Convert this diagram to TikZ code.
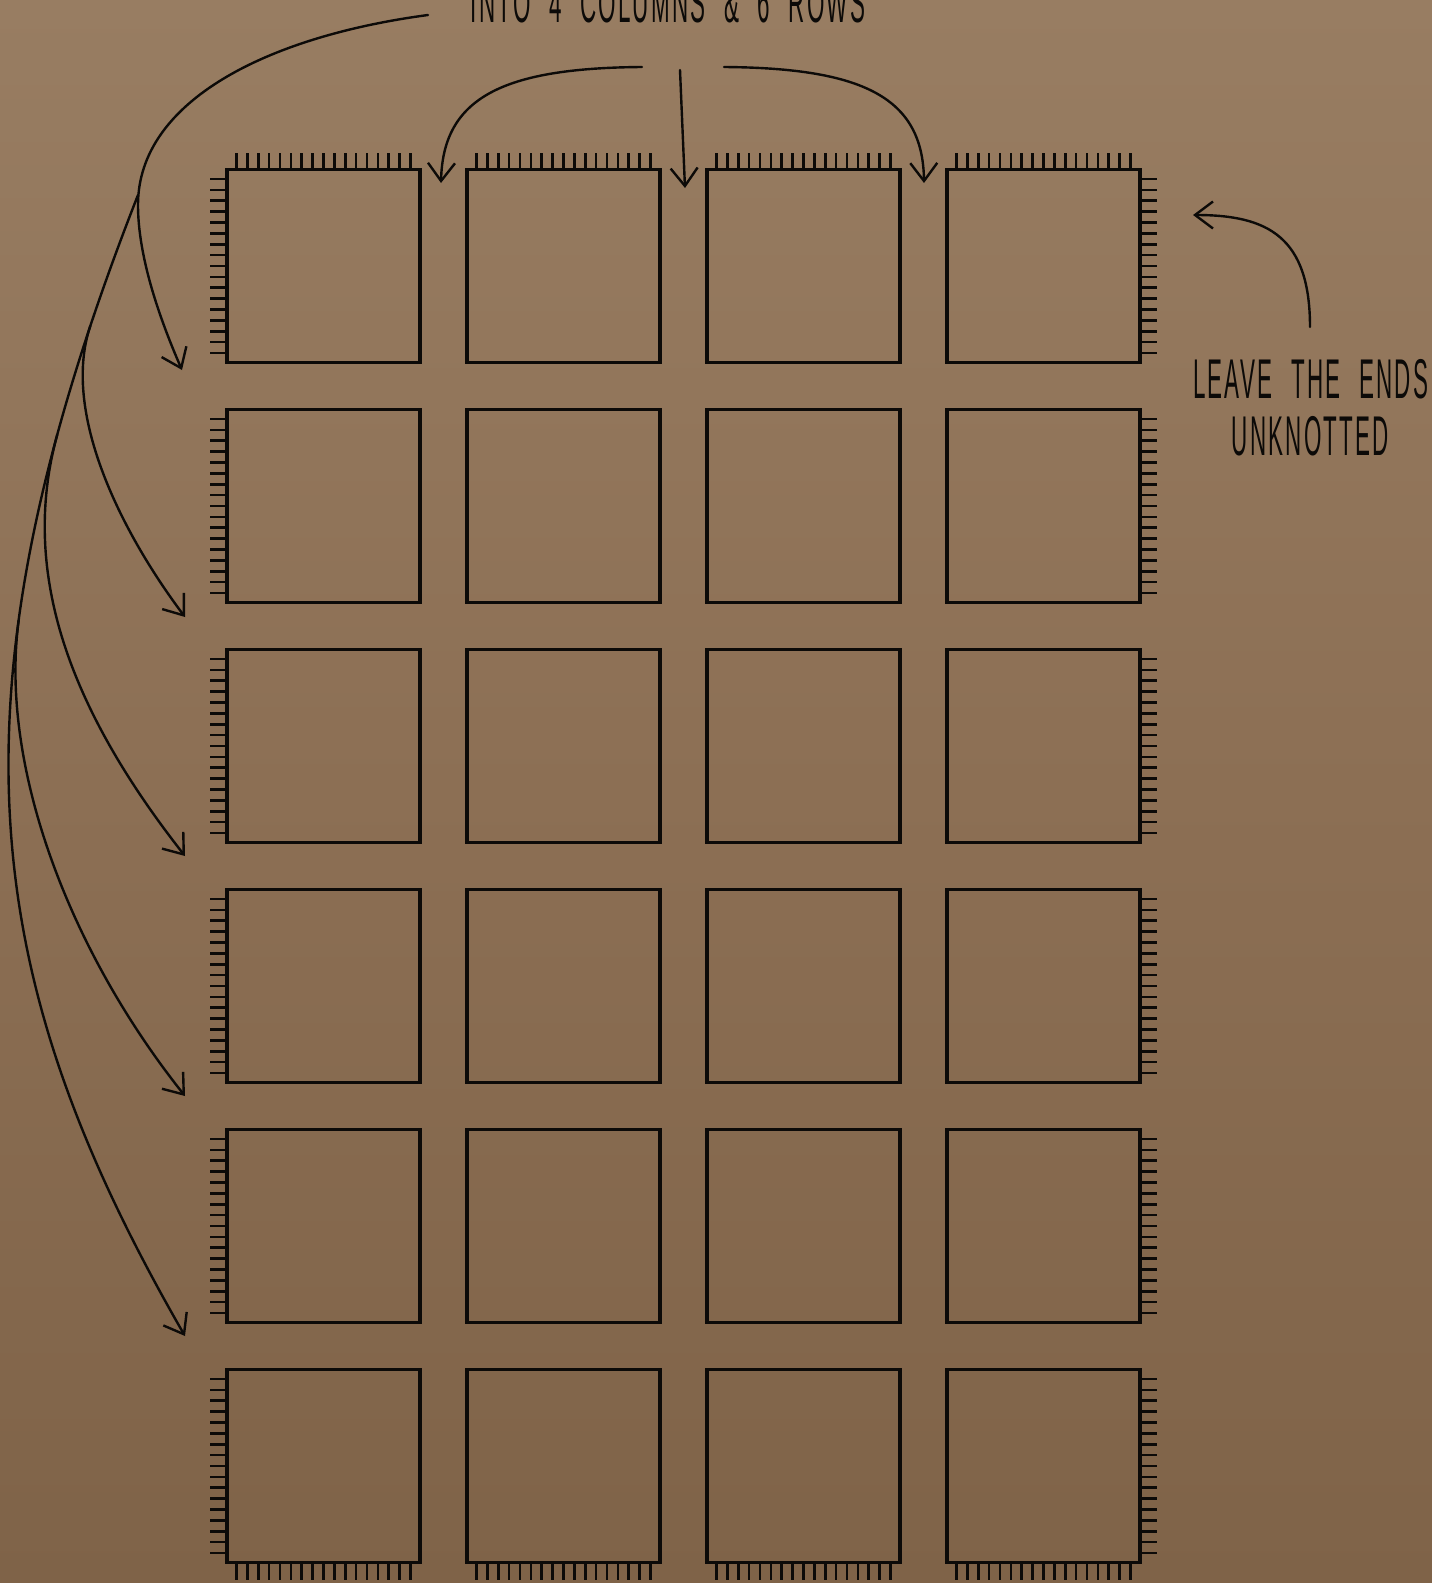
\documentclass[tikz,border=0pt]{standalone}
\usepackage{fontspec}
\newfontfamily\hand[FakeStretch=0.4,LetterSpace=4,WordSpace=2.2]{Liberation Sans}
\usetikzlibrary{arrows.meta}
\definecolor{bgtop}{RGB}{152,125,98}
\definecolor{bgmid}{RGB}{140,111,84}
\definecolor{bgbot}{RGB}{127,99,72}
\definecolor{ink}{RGB}{12,10,8}
\tikzset{
 box/.style={draw=ink, line width=3.2pt, minimum width=193pt, minimum height=193pt, inner sep=0pt, outer sep=0pt},
 fringe/.style={draw=ink, line width=2.6pt},
 arr/.style={draw=ink, line width=2.4pt, line cap=round, -{Straight Barb[length=18pt,width=27pt]}},
 lbl/.style={text=ink, font=\hand\fontsize{56}{56}\selectfont, inner sep=0pt, anchor=base},
}
\begin{document}
\begin{tikzpicture}[x=1pt,y=-1pt]
\useasboundingbox (0,0) rectangle (1432,1583);
\clip (0,0) rectangle (1432,1583);
\shade[top color=bgtop, bottom color=bgbot, middle color=bgmid] (0,0) rectangle (1432,1583);
% boxes
\foreach \r in {1,...,6}{\foreach \c in {1,...,4}{
  \node[box] (b\r\c) at ({323.5+240*(\c-1)},{266+240*(\r-1)}) {};
}}
% top and bottom fringes
\foreach \c in {1,...,4}{\foreach \i in {0,...,16}{
  \draw[fringe] ([xshift=9.5pt+\i*10.875pt]b1\c.north west) -- ++(0,-16.7);
  \draw[fringe] ([xshift=9.5pt+\i*10.875pt]b6\c.south west) -- ++(0,17.5);
}}
% left and right fringes
\foreach \r in {1,...,6}{\foreach \i in {0,...,16}{
  \draw[fringe] ([yshift=-9.5pt-\i*10.875pt]b\r1.north west) -- ++(-17,0);
  \draw[fringe] ([yshift=-9.5pt-\i*10.875pt]b\r4.north east) -- ++(17,0);
}}
% coordinates
\coordinate (c1s) at (428,15);
\coordinate (k) at (138,205);
\coordinate (t1) at (182,370);
\coordinate (s) at (138,195);
\coordinate (j2) at (90.3,326);
\coordinate (j3) at (57.3,434.5);
\coordinate (j4) at (18.7,620.5);
\coordinate (t2) at (185,617);
\coordinate (t3) at (185,856);
\coordinate (t4) at (185,1096);
\coordinate (t5) at (185,1336);
\coordinate (ma) at (642,67);
\coordinate (mb) at (680,70);
\coordinate (mc) at (724,67);
\coordinate (ta) at (441,183);
\coordinate (tb) at (685,188);
\coordinate (tc) at (924,183);
\coordinate (ra) at (1310,327);
\coordinate (rb) at (1193,215);
% left arrows
\draw[arr] (c1s) .. controls (270,36) and (138,100) .. (k) .. controls (138,255) and (158,315) .. (t1);
\draw[arr] (s) .. controls (-60,700) and (-20,980) .. (t5);
\draw[arr] (j4) .. controls (-0.4,761.7) and (65.8,946.1) .. (t4);
\draw[arr] (j3) .. controls (19.8,570.4) and (67.5,706.3) .. (t3);
\draw[arr] (j2) .. controls (61.6,411) and (119,529) .. (t2);
% top arrows
\draw[arr] (ma) .. controls (502,68) and (443,98) .. (ta);
\draw[arr] (mb) -- (tb);
\draw[arr] (mc) .. controls (864,68) and (923,98) .. (tc);
% right arrow
\draw[arr] (ra) .. controls (1310,237) and (1268,215) .. (rb);
% labels
\node[lbl] (ttop) at (668,22) {INTO 4 COLUMNS \& 6 ROWS};
\node[lbl] (tleave) at (1310.5,398) {LEAVE THE ENDS};
\node[lbl] (tunk) at (1310.5,455) {UNKNOTTED};
\end{tikzpicture}
\end{document}
